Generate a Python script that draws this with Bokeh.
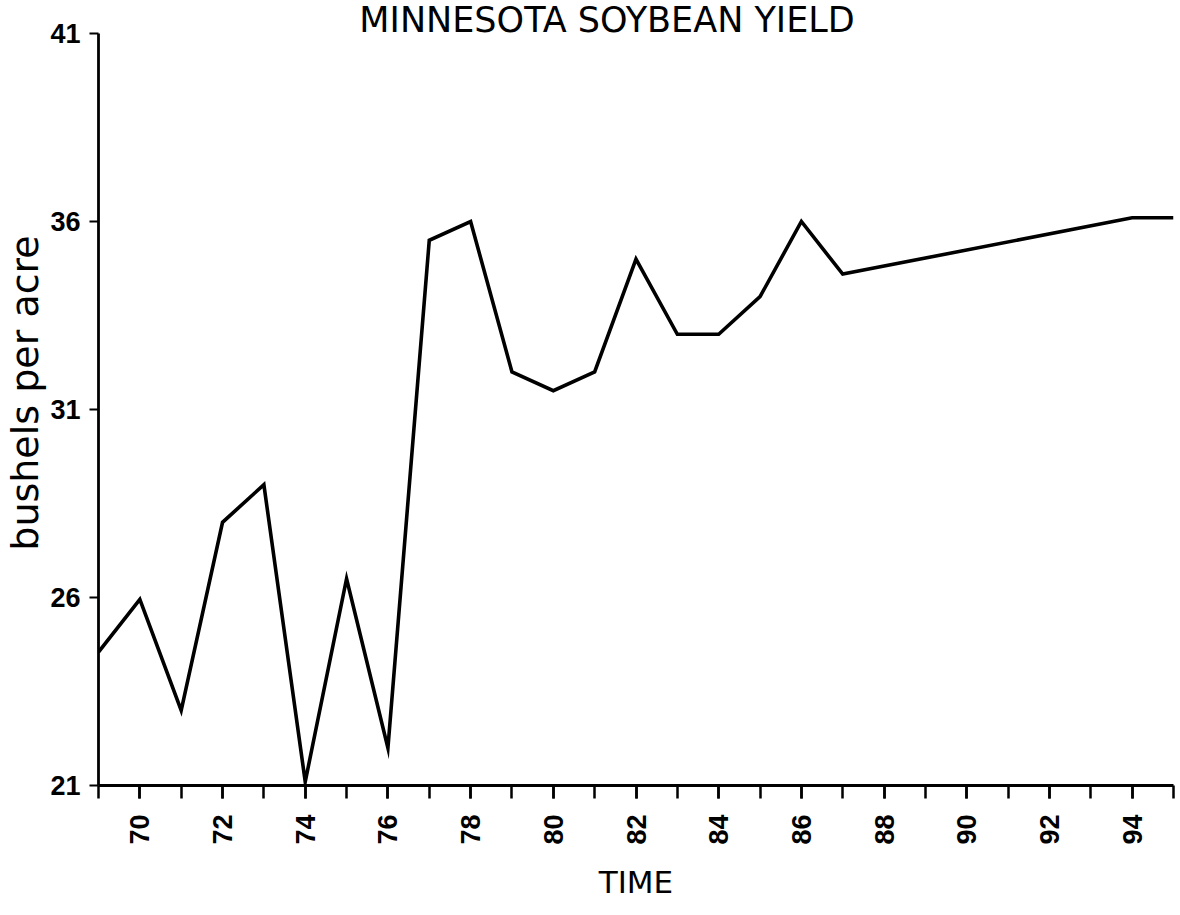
import math
from bokeh.plotting import figure
from bokeh.models import Range1d, FixedTicker, Label
from bokeh.embed import file_html
from bokeh.resources import INLINE

# Data
years = [69, 70, 71, 72, 73, 74, 75, 76, 77, 78, 79, 80, 81, 82, 83, 84, 85, 86, 87, 94, 95]
yield_bu = [24.55, 25.95, 23.0, 28.0, 29.0, 21.1, 26.5, 22.0, 35.5, 36.0, 32.0, 31.5, 32.0,
            35.0, 33.0, 33.0, 34.0, 36.0, 34.6, 36.1, 36.1]

x_major = [70, 72, 74, 76, 78, 80, 82, 84, 86, 88, 90, 92, 94]
x_minor = list(range(69, 96))
y_ticks = [21, 26, 31, 36, 41]

title_text = "MINNESOTA SOYBEAN YIELD"
x_label = "TIME"
y_label = "bushels per acre"

TICK_FONT = "Liberation Sans"
TEXT_FONT = "DejaVu Sans"

p = figure(frame_width=1075, frame_height=785,
           x_range=Range1d(69, 95), y_range=Range1d(21, 41 + 33 / 37.6),
           output_backend="svg", toolbar_location=None,
           min_border_left=90, min_border_right=4,
           min_border_top=0, min_border_bottom=0)

p.outline_line_color = None
p.xgrid.visible = False
p.ygrid.visible = False
p.background_fill_color = "white"
p.border_fill_color = "white"

p.line(years, yield_bu, line_color="black", line_width=3.6, line_join="miter")

# x axis
xa = p.xaxis[0]
xa.ticker = FixedTicker(ticks=x_major, minor_ticks=x_minor)
xa.axis_line_width = 2.8
xa.axis_line_color = "black"
xa.major_tick_in = 0
xa.major_tick_out = 13
xa.minor_tick_in = 0
xa.minor_tick_out = 13
xa.major_tick_line_width = 2.5
xa.minor_tick_line_width = 2.5
xa.major_label_orientation = math.pi / 2
xa.major_label_standoff = 16
xa.major_label_text_font = TICK_FONT
xa.major_label_text_font_style = "bold"
xa.major_label_text_font_size = "27px"
xa.major_label_text_color = "black"
xa.axis_label = x_label
xa.axis_label_standoff = 16
xa.axis_label_text_font = TEXT_FONT
xa.axis_label_text_font_style = "normal"
xa.axis_label_text_font_size = "31px"
xa.axis_label_text_color = "black"

# y axis
ya = p.yaxis[0]
ya.ticker = FixedTicker(ticks=y_ticks, minor_ticks=[])
ya.bounds = (21, 41)
ya.axis_line_width = 2.8
ya.axis_line_color = "black"
ya.major_tick_in = 0
ya.major_tick_out = 9
ya.major_tick_line_width = 2
ya.minor_tick_out = 0
ya.minor_tick_in = 0
ya.major_label_standoff = 9
ya.major_label_text_font = TICK_FONT
ya.major_label_text_font_style = "bold"
ya.major_label_text_font_size = "27px"
ya.major_label_text_color = "black"
ya.axis_label = y_label
ya.axis_label_standoff = 0
ya.axis_label_text_font = TEXT_FONT
ya.axis_label_text_font_style = "normal"
ya.axis_label_text_font_size = "38px"
ya.axis_label_text_color = "black"

# title drawn inside the (extended) frame, just above the 41 level
p.add_layout(Label(x=81.3, y=41.36, text=title_text, text_align="center",
                   text_baseline="alphabetic", text_font=TEXT_FONT,
                   text_font_size="35px", text_color="black"))

open("out.html", "w").write(file_html(p, INLINE))
